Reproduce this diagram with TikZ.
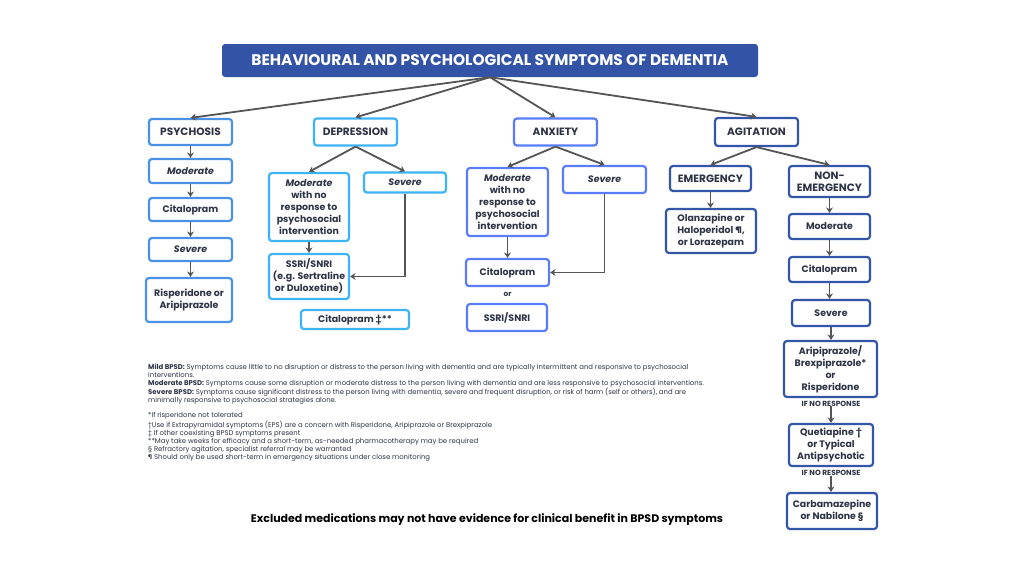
\documentclass[tikz,border=0pt]{standalone}
\usepackage{fontspec}
\setmainfont{Poppins}
\usetikzlibrary{arrows.meta}
\definecolor{txt}{HTML}{2E3446}
\definecolor{ttl}{HTML}{3353A6}
\definecolor{cpsy}{HTML}{4A92E6}
\definecolor{cdep}{HTML}{3DB5F5}
\definecolor{canx}{HTML}{5A7CF6}
\definecolor{cagi}{HTML}{3356A8}
\definecolor{arr}{HTML}{555555}
\newcommand{\capsz}{\fontsize{10.6}{12}\selectfont}
\begin{document}
\begin{tikzpicture}[x=1pt,y=-1pt,
  box/.style={draw=#1, line width=2.2pt, rounded corners=3pt, fill=white, inner sep=0pt, align=center, text=txt, font=\fontsize{9.4}{12}\selectfont\bfseries},
  conn/.style={draw=arr, line width=1.8pt, -{Stealth[length=5.5pt,width=7pt]}},
  note/.style={inner sep=0pt, anchor=north west, align=left, text=txt, font=\fontsize{6.9}{8}\selectfont},
  nr/.style={inner sep=0pt, text=txt, font=\fontsize{7.4}{8}\selectfont\bfseries},
]
\useasboundingbox (0,0) rectangle (1024,576);
\fill[white] (0,0) rectangle (1024,576);

% title
\node[fill=ttl, rounded corners=3pt, minimum width=536pt, minimum height=33pt, inner sep=0pt, text=white, font=\fontsize{15.4}{17}\selectfont\bfseries] (title) at (490,60.5) {BEHAVIOURAL AND PSYCHOLOGICAL SYMPTOMS OF DEMENTIA};

% psychosis
\node[box=cpsy, minimum width=83pt, minimum height=26pt] (psy) at (190.5,132) {\capsz PSYCHOSIS};
\node[box=cpsy, minimum width=83pt, minimum height=24pt] (psymod) at (190.5,171) {\itshape Moderate};
\node[box=cpsy, minimum width=83pt, minimum height=23pt] (psycit) at (190.5,209.5) {Citalopram};
\node[box=cpsy, minimum width=83pt, minimum height=23pt] (psysev) at (190.5,249.5) {\itshape Severe};
\node[box=cpsy, minimum width=86pt, minimum height=44pt] (psyrisp) at (189,300) {Risperidone or\\Aripiprazole};

% depression
\node[box=cdep, minimum width=83pt, minimum height=27pt] (dep) at (355.5,132) {\capsz DEPRESSION};
\node[box=cdep, minimum width=80pt, minimum height=68pt] (depmod) at (309,207) {\itshape Moderate\\with no\\response to\\psychosocial\\intervention};
\node[box=cdep, minimum width=82pt, minimum height=20pt] (depsev) at (405,182.5) {\itshape Severe};
\node[box=cdep, minimum width=80pt, minimum height=45pt] (depssri) at (309,276.5) {SSRI/SNRI\\(e.g. Sertraline\\or Duloxetine)};
\node[box=cdep, minimum width=108pt, minimum height=19pt] (depcit) at (355,319.5) {Citalopram ‡**};

% anxiety
\node[box=canx, minimum width=83pt, minimum height=27pt] (anx) at (555.5,132) {\capsz ANXIETY};
\node[box=canx, minimum width=81pt, minimum height=68pt] (anxmod) at (507.5,202) {\itshape Moderate\\with no\\response to\\psychosocial\\intervention};
\node[box=canx, minimum width=83pt, minimum height=27pt] (anxsev) at (604.5,179.5) {\itshape Severe};
\node[box=canx, minimum width=83pt, minimum height=27pt] (anxcit) at (507.5,272.5) {Citalopram};
\node[inner sep=0pt, text=txt, font=\fontsize{7.4}{8}\selectfont\bfseries] (or) at (507.5,294.5) {or};
\node[box=canx, minimum width=80pt, minimum height=27pt] (anxssri) at (507,317.5) {SSRI/SNRI};

% agitation
\node[box=cagi, minimum width=83pt, minimum height=28pt] (agi) at (756.5,132) {\capsz AGITATION};
\node[box=cagi, minimum width=81pt, minimum height=25pt] (emer) at (710.5,178.5) {\capsz EMERGENCY};
\node[box=cagi, minimum width=81pt, minimum height=31pt] (nonemer) at (829.5,181.5) {\capsz NON-\\\capsz EMERGENCY};
\node[box=cagi, minimum width=90pt, minimum height=44pt] (olan) at (711,231) {Olanzapine or\\Haloperidol ¶,\\or Lorazepam};
\node[box=cagi, minimum width=81pt, minimum height=25pt] (agmod) at (829.5,226.5) {Moderate};
\node[box=cagi, minimum width=81pt, minimum height=25pt] (agcit) at (829.5,269.5) {Citalopram};
\node[box=cagi, minimum width=78pt, minimum height=26pt] (agsev) at (831,313) {Severe};
\node[box=cagi, minimum width=93pt, minimum height=56pt] (agari) at (830.5,369) {Aripiprazole/\\Brexpiprazole*\\or\\Risperidone};
\node[nr] (nr1) at (831,403.5) {IF NO RESPONSE};
\node[box=cagi, minimum width=84pt, minimum height=42pt] (agque) at (831,445) {Quetiapine †\\or Typical\\Antipsychotic};
\node[nr] (nr2) at (831,473) {IF NO RESPONSE};
\node[box=cagi, minimum width=90pt, minimum height=36pt] (agcarb) at (832,511) {Carbamazepine\\or Nabilone §};

% connectors
\foreach \t in {psy,dep,anx,agi} \draw[conn] (title.south) -- (\t.north);
\draw[conn] (psy.south) -- (psy.south |- psymod.north);
\draw[conn] (psymod.south) -- (psymod.south |- psycit.north);
\draw[conn] (psycit.south) -- (psycit.south |- psysev.north);
\draw[conn] (psysev.south) -- (psysev.south |- psyrisp.north);

\draw[conn] (dep.south) -- (depmod.north);
\draw[conn] (dep.south) -- (depsev.north);
\draw[conn] (depmod.south) -- (depmod.south |- depssri.north);
\draw[conn] (depsev.south) -- (depsev.south |- depssri.east) -- (depssri.east);

\draw[conn] (anx.south) -- (anxmod.north);
\draw[conn] (anx.south) -- (anxsev.north);
\draw[conn] (anxmod.south) -- (anxmod.south |- anxcit.north);
\draw[conn] (anxsev.south) -- (anxsev.south |- anxcit.east) -- (anxcit.east);

\draw[conn] (agi.south) -- (emer.north);
\draw[conn] (agi.south) -- (nonemer.north);
\draw[conn] (emer.south) -- (emer.south |- olan.north);
\draw[conn] (nonemer.south) -- (nonemer.south |- agmod.north);
\draw[conn] (agmod.south) -- (agmod.south |- agcit.north);
\draw[conn] (agcit.south) -- (agcit.south |- agsev.north);
\draw[conn] (agsev.south) -- (agsev.south |- agari.north);
\draw[conn] (nr1.south) -- (nr1.south |- agque.north);
\draw[conn] (nr2.south) -- (nr2.south |- agcarb.north);

% notes
\node[note] (defs) at (148,363.5) {\textbf{Mild BPSD:} Symptoms cause little to no disruption or distress to the person living with dementia and are typically intermittent and responsive to psychosocial\\
interventions.\\
\textbf{Moderate BPSD:} Symptoms cause some disruption or moderate distress to the person living with dementia and are less responsive to psychosocial interventions.\\
\textbf{Severe BPSD:} Symptoms cause significant distress to the person living with dementia, severe and frequent disruption, or risk of harm (self or others), and are\\
minimally responsive to psychosocial strategies alone.};
\node[note] (foot) at (148,412.5) {*If risperidone not tolerated\\
†Use if Extrapyramidal symptoms (EPS) are a concern with Risperidone, Aripiprazole or Brexpiprazole\\
‡ If other coexisting BPSD symptoms present\\
**May take weeks for efficacy and a short-term, as-needed pharmacotherapy may be required\\
§ Refractory agitation, specialist referral may be warranted\\
¶ Should only be used short-term in emergency situations under close monitoring};

\node[inner sep=0pt, text=black, font=\fontsize{11}{13}\selectfont\bfseries] (excl) at (487,520) {Excluded medications may not have evidence for clinical benefit in BPSD symptoms};
\end{tikzpicture}
\end{document}
